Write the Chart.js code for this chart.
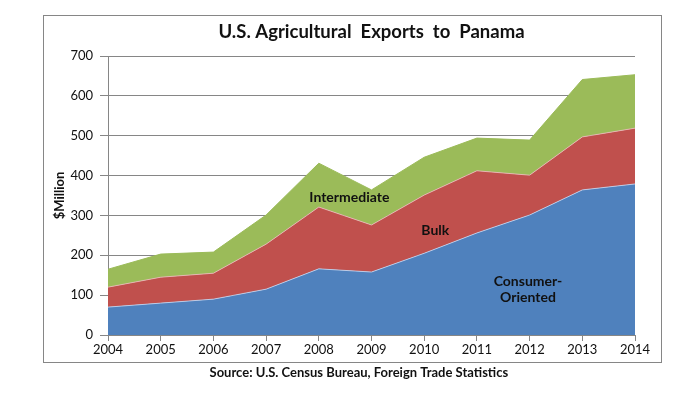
<!DOCTYPE html>
<html>
<head>
<meta charset="utf-8">
<script src="https://cdn.jsdelivr.net/npm/chart.js@4"></script>
<style>
  html, body { margin: 0; padding: 0; background: #fff; }
  #wrap { width: 700px; height: 393px; }
</style>
</head>
<body>
<div id="wrap"><canvas id="myChart" width="700" height="393"></canvas></div>
<script>
// data ($ million)
var years = ['2004', '2005', '2006', '2007', '2008', '2009', '2010', '2011', '2012', '2013', '2014']
var consumerOriented = [70, 80, 90, 115, 166, 158, 205, 256, 301, 364, 379]
var bulk = [50, 65, 65, 113, 155, 118, 146, 156, 100, 133, 140]
var intermediate = [45, 58, 53, 73, 110, 88, 95, 82, 88, 144, 134]
var yTicks = [0, 100, 200, 300, 400, 500, 600, 700]

// in-chart labels, placed in data units (x = year index, y = $ million)
var areaLabels = [
  { text: ['Intermediate'], x: 4.58, y: 346 },
  { text: ['Bulk'], x: 6.21, y: 263 },
  { text: ['Consumer-', 'Oriented'], x: 7.97, y: 113 }
]

var font = 'Lato, "Open Sans", sans-serif'
var grey = '#868686'

// outer frame like the spreadsheet chart box
var framePlugin = {
  id: 'frame',
  beforeDraw: function (chart) {
    var c = chart.ctx
    c.save()
    c.fillStyle = '#fff'
    c.fillRect(0, 0, chart.width, chart.height)
    c.strokeStyle = grey
    c.lineWidth = 1
    c.strokeRect(43.5, 15.5, 618, 347)
    c.restore()
  }
}

var labelPlugin = {
  id: 'areaLabels',
  afterDatasetsDraw: function (chart) {
    var c = chart.ctx
    var xs = chart.scales.x, ys = chart.scales.y
    c.save()
    c.font = 'bold 14px ' + font
    c.fillStyle = '#111'
    c.textAlign = 'center'
    c.textBaseline = 'middle'
    areaLabels.forEach(function (l) {
      var px = xs.left + (xs.right - xs.left) * l.x / (years.length - 1)
      var py = ys.getPixelForValue(l.y)
      var off = (l.text.length - 1) * 8
      l.text.forEach(function (t, i) {
        c.fillText(t, px, py - off + i * 16)
      })
    })
    c.restore()
  }
}

var ctx = document.getElementById('myChart').getContext('2d')
var chart = new Chart(ctx, {
  type: 'line',
  data: {
    labels: years,
    datasets: [{
      label: 'Consumer-Oriented',
      data: consumerOriented,
      backgroundColor: '#4F81BD',
      borderColor: 'rgba(200,215,240,0.8)',
      borderWidth: 1,
      fill: 'origin'
    }, {
      label: 'Bulk',
      data: bulk,
      backgroundColor: '#C0504D',
      borderColor: 'rgba(235,190,190,0.8)',
      borderWidth: 1,
      fill: '-1'
    }, {
      label: 'Intermediate',
      data: intermediate,
      backgroundColor: '#9BBB59',
      borderColor: '#9BBB59',
      borderWidth: 1,
      fill: '-1'
    }]
  },
  options: {
    responsive: false,
    animation: false,
    devicePixelRatio: 1,
    layout: { padding: { top: 10, left: 45, right: 65, bottom: 12 } },
    elements: { point: { radius: 0 }, line: { tension: 0 } },
    plugins: {
      legend: { display: false },
      tooltip: { enabled: false },
      title: {
        display: true,
        fullSize: false,
        text: 'U.S. Agricultural  Exports  to  Panama',
        color: '#111',
        font: { family: font, size: 18.5, weight: 'bold', lineHeight: 1.2 },
        padding: { top: 11, bottom: 12.8 }
      }
    },
    scales: {
      x: {
        offset: false,
        grid: { drawOnChartArea: false, color: grey, tickLength: 6 },
        border: { color: grey },
        ticks: { color: '#111', font: { family: font, size: 13 }, padding: 1, maxRotation: 0, autoSkip: false },
        title: {
          display: true,
          // trailing spaces pull the centred text a little left, as in the original
          text: 'Source: U.S. Census Bureau, Foreign Trade Statistics        ',
          color: '#111',
          font: { family: font, size: 13, weight: 'bold', lineHeight: 1.2 },
          padding: { top: 5, bottom: 0 }
        },
        afterFit: function (s) { s.height = 46 }
      },
      y: {
        stacked: true,
        min: 0,
        max: 700,
        afterBuildTicks: function (s) { s.ticks = yTicks.map(function (v) { return { value: v } }) },
        grid: { color: grey, tickLength: 8 },
        border: { color: grey },
        ticks: { color: '#111', font: { family: font, size: 13 }, padding: 7 },
        title: {
          display: true,
          text: '$Million',
          color: '#111',
          font: { family: font, size: 13, weight: 'bold', lineHeight: 1.2 },
          padding: { top: 7, bottom: 0 }
        },
        afterFit: function (s) { s.width = 63 }
      }
    }
  },
  plugins: [framePlugin, labelPlugin]
})
</script>
</body>
</html>
